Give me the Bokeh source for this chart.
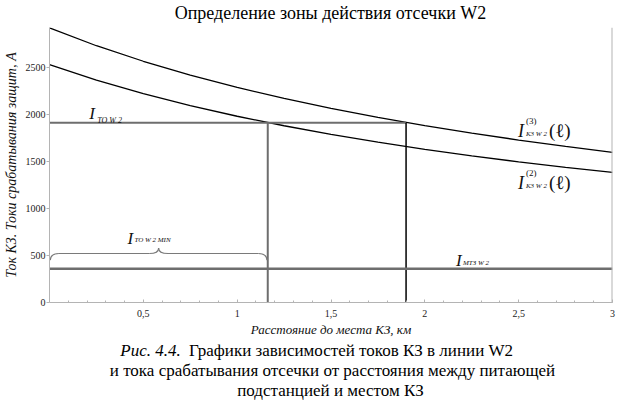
from bokeh.plotting import figure
from bokeh.models import Range1d, FixedTicker, Label, Span
from bokeh.layouts import column
from bokeh.core.properties import value
from bokeh.embed import file_html
from bokeh.resources import INLINE

# ---- data ----
x_km = [0, 0.25, 0.5, 0.75, 1.0, 1.25, 1.5, 1.75, 2.0, 2.25, 2.5, 2.75, 3.0]
i_k3_3 = [2920, 2731, 2566, 2419, 2288, 2171, 2065, 1969, 1881, 1801, 1728, 1660, 1597]
i_k3_2 = [2529, 2365, 2222, 2095, 1981, 1880, 1788, 1705, 1629, 1560, 1496, 1438, 1383]
i_to_w2 = 1911          # current setting of the cut-off
i_mtz_w2 = 358          # current setting of the overcurrent protection
x_min_zone = 1.163      # zone end for two-phase fault
x_max_zone = 1.9        # zone end for three-phase fault
brace_y = 521
x_ticks = [0.5, 1, 1.5, 2, 2.5, 3]
x_tick_labels = ["0,5", "1", "1,5", "2", "2,5", "3"]
y_ticks = [0, 500, 1000, 1500, 2000, 2500]
title_text = "Определение зоны действия отсечки W2"
caption_fig = "Рис. 4.4."
caption_lines = ["Графики зависимостей токов КЗ в линии W2",
                 "и тока срабатывания отсечки от расстояния между питающей",
                 "подстанцией и местом КЗ"]

SERIF = "Liberation Serif"
GRAY = "#6e6e6e"
AX = "#b4b4b4"


def strip(h):
    s = figure(width=618, height=h, output_backend="svg", toolbar_location=None,
               x_range=Range1d(47, 612), y_range=Range1d(h, 0),
               min_border=0, x_axis_location=None, y_axis_location=None)
    s.outline_line_color = None
    s.xgrid.visible = False
    s.ygrid.visible = False
    return s


# title strip (frame aligned with chart frame -> x in page pixels 47..612)
t = strip(27)
t.text(x=[329], y=[12.5], text=[title_text], text_font=value(SERIF),
       text_font_size="18px", text_baseline="middle", text_align="center", text_color="black")

p = figure(width=618, height=313, output_backend="svg", toolbar_location=None,
           x_range=Range1d(0, 3), y_range=Range1d(0, 2925),
           min_border_left=47, min_border_right=6, min_border_top=0, min_border_bottom=38)
p.outline_line_color = None
p.xgrid.visible = False
p.ygrid.visible = False

# axes
xa = p.xaxis[0]
xa.ticker = FixedTicker(ticks=x_ticks, minor_ticks=[i / 10 for i in range(1, 31)])
xa.major_label_overrides = {t_: l for t_, l in zip(x_ticks, x_tick_labels)}
xa.axis_line_color = AX
xa.major_tick_line_color = AX
xa.minor_tick_line_color = AX
xa.major_tick_in = 3
xa.major_tick_out = 0
xa.minor_tick_in = 2
xa.minor_tick_out = 0
xa.major_label_text_font = SERIF
xa.major_label_text_font_size = "10px"
xa.major_label_text_color = "#222222"
xa.major_label_standoff = 7
xa.axis_label = "Расстояние до места КЗ, км"
xa.axis_label_text_font = SERIF
xa.axis_label_text_font_style = "italic"
xa.axis_label_text_font_size = "13px"
xa.axis_label_text_color = "#111111"
xa.axis_label_standoff = 2

ya = p.yaxis[0]
ya.ticker = FixedTicker(ticks=y_ticks)
ya.axis_line_color = AX
ya.major_tick_line_color = AX
ya.major_tick_in = 0
ya.major_tick_out = 3
ya.minor_tick_line_color = None
ya.major_label_text_font = SERIF
ya.major_label_text_font_size = "10px"
ya.major_label_text_color = "#222222"
ya.major_label_standoff = 1
ya.axis_label = "Ток КЗ. Токи срабатывания защит, А"
ya.axis_label_text_font = SERIF
ya.axis_label_text_font_style = "italic"
ya.axis_label_text_font_size = "14px"
ya.axis_label_text_color = "#111111"
ya.axis_label_standoff = 4

# right frame border
p.add_layout(Span(location=3, dimension="height", line_color=AX, line_width=2))

# curves
p.line(x_km, i_k3_3, line_color="black", line_width=1.3)
p.line(x_km, i_k3_2, line_color="black", line_width=1.3)

# settings lines
p.line([0, x_max_zone], [i_to_w2, i_to_w2], line_color=GRAY, line_width=2)
p.line([x_min_zone, x_min_zone], [0, i_to_w2], line_color=GRAY, line_width=2)
p.line([x_max_zone, x_max_zone], [0, i_to_w2], line_color="black", line_width=1.5)
p.line([0, 3], [i_mtz_w2, i_mtz_w2], line_color=GRAY, line_width=2.5)

# brace over the minimal zone
mid = (0 + x_min_zone) / 2
dx = 0.05
BR = "#7a7a7a"
p.bezier(x0=[0.004, mid, mid, x_min_zone - 0.004],
         y0=[brace_y - 70, brace_y + 60, brace_y + 60, brace_y - 70],
         x1=[dx, mid - dx, mid + dx, x_min_zone - dx], y1=[brace_y] * 4,
         cx0=[0.006, mid, mid, x_min_zone - 0.006],
         cy0=[brace_y - 20, brace_y + 10, brace_y + 10, brace_y - 20],
         cx1=[0.02, mid - 0.02, mid + 0.02, x_min_zone - 0.02], cy1=[brace_y] * 4,
         line_color=BR, line_width=1.2)
p.line([dx, mid - dx], [brace_y, brace_y], line_color=BR, line_width=1.2)
p.line([mid + dx, x_min_zone - dx], [brace_y, brace_y], line_color=BR, line_width=1.2)


def lab(x, y, text, size, style="italic", dx=0, dy=0, align="left", color="#111111"):
    p.add_layout(Label(x=x, y=y, text=text, x_offset=dx, y_offset=dy,
                       text_font=SERIF, text_font_style=style, text_font_size=size,
                       text_align=align, text_baseline="alphabetic", text_color=color))


# I_TO W2
lab(0.212, i_to_w2, "I", "17px", dy=9)
lab(0.212, i_to_w2, "TO W 2", "8px", dx=8, dy=2)
# I_TO W2 MIN
lab(0.415, 681, "I", "17px")
lab(0.415, 681, "TO W 2 MIN", "7px", dx=7, dy=-2)
# I_MTZ W2
lab(2.166, i_mtz_w2, "I", "17px", dy=8)
lab(2.166, i_mtz_w2, "МТЗ W 2", "7px", dx=7, dy=6)
# I(3), I(2)
for yy, sup in [(1829, "(3)"), (1276, "(2)")]:
    lab(2.496, yy, "I", "18px")
    lab(2.496, yy, sup, "9px", style="normal", dx=8, dy=10)
    lab(2.496, yy, "K3 W 2", "7px", dx=8, dy=-3)
    lab(2.496, yy, "(ℓ)", "19px", style="normal", dx=31, dy=0)

# caption strip
c = strip(71)
c.text(x=[118], y=[10], text=[caption_fig], text_font=value(SERIF), text_font_style="italic",
       text_font_size="17px", text_baseline="middle", text_align="left", text_color="black")
c.text(x=[187], y=[10], text=[caption_lines[0]], text_font=value(SERIF),
       text_font_size="17px", text_baseline="middle", text_align="left", text_color="black")
c.text(x=[331, 329], y=[30, 50], text=caption_lines[1:], text_font=value(SERIF),
       text_font_size="17px", text_baseline="middle", text_align="center", text_color="black")

open("out.html", "w").write(file_html(column(t, p, c, spacing=0), INLINE))
